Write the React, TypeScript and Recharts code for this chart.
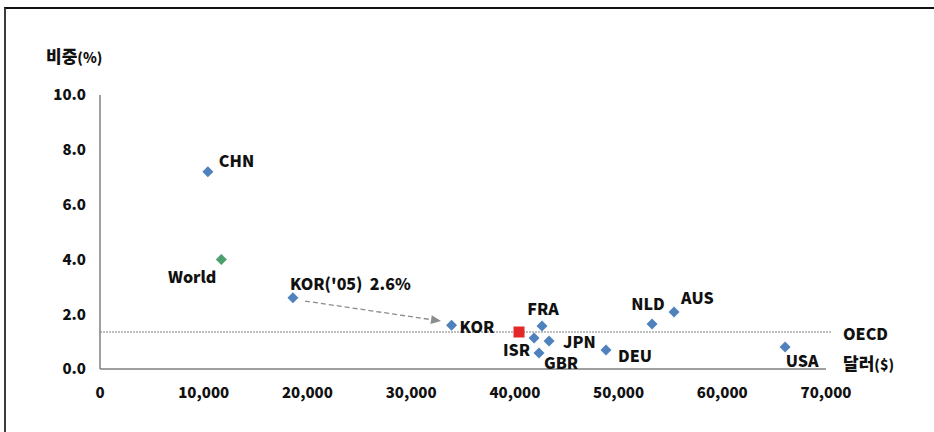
import React from 'react';
import { ScatterChart, Scatter, XAxis, YAxis, ReferenceLine } from 'recharts';

// ---- data ----
const countryNames = ['CHN', "KOR('05)  2.6%", 'KOR', 'ISR', 'GBR', 'FRA', 'JPN', 'DEU', 'NLD', 'AUS', 'USA'];
const countryGdp = [10400, 18600, 33900, 41850, 42330, 42620, 43300, 48790, 53230, 55350, 66060];
const countryShare = [7.2, 2.6, 1.6, 1.13, 0.58, 1.57, 1.02, 0.69, 1.64, 2.08, 0.8];

const worldNames = ['World'];
const worldGdp = [11700];
const worldShare = [4.0];

const oecdNames = ['OECD'];
const oecdGdp = [40400];
const oecdShare = [1.35];

const arrowFrom = { x: 19770, y: 2.48 };
const arrowTo = { x: 32880, y: 1.75 };

const xTicks = [0, 10000, 20000, 30000, 40000, 50000, 60000, 70000];
const yTicks = [0, 2, 4, 6, 8, 10];

const yAxisTitle = '비중';
const yAxisUnit = '(%)';
const xAxisTitle = '달러';
const xAxisUnit = '($)';
const oecdLineLabel = 'OECD';

// ---- layout / styles ----
const FONT = "'Noto Sans CJK KR', 'Noto Sans', sans-serif";
const BLUE = '#4F81BD';
const GREEN = '#4E9F6E';
const RED = '#E3282B';

const labelLayout: Record<string, { dx: number; dy: number; anchor: 'start' | 'middle' | 'end' }> = {
  CHN: { dx: 11, dy: -12, anchor: 'start' },
  World: { dx: -5, dy: 17, anchor: 'end' },
  "KOR('05)  2.6%": { dx: -3, dy: -15, anchor: 'start' },
  KOR: { dx: 8, dy: 1, anchor: 'start' },
  FRA: { dx: 1, dy: -18, anchor: 'middle' },
  ISR: { dx: -4, dy: 11, anchor: 'end' },
  GBR: { dx: 5, dy: 9, anchor: 'start' },
  JPN: { dx: 14, dy: 0, anchor: 'start' },
  DEU: { dx: 12, dy: 5, anchor: 'start' },
  NLD: { dx: -4, dy: -21, anchor: 'middle' },
  AUS: { dx: 7, dy: -15, anchor: 'start' },
  USA: { dx: 17, dy: 13, anchor: 'middle' },
};

const build = (names: string[], xs: number[], ys: number[]) =>
  names.map((name, i) => ({ name, x: xs[i], y: ys[i] }));

const countryData = build(countryNames, countryGdp, countryShare);
const worldData = build(worldNames, worldGdp, worldShare);
const oecdData = build(oecdNames, oecdGdp, oecdShare);

const renderLabel = (cx: number, cy: number, name: string) => {
  const l = labelLayout[name];
  if (!l) return null;
  return (
    <text
      x={cx + l.dx}
      y={cy + l.dy}
      textAnchor={l.anchor}
      dominantBaseline="central"
      fontFamily={FONT}
      fontWeight={900}
      fontSize={16}
      fill="#111"
      style={{ whiteSpace: 'pre' }}
    >
      {name}
    </text>
  );
};

const makeDiamond = (color: string) => (props: any) => {
  const { cx, cy, payload } = props;
  const r = 5.5;
  return (
    <g>
      <polygon points={`${cx},${cy - r} ${cx + r},${cy} ${cx},${cy + r} ${cx - r},${cy}`} fill={color} />
      {renderLabel(cx, cy, payload.name)}
    </g>
  );
};

const squareShape = (props: any) => {
  const { cx, cy } = props;
  const s = 11;
  return <rect x={cx - s / 2} y={cy - s / 2} width={s} height={s} fill={RED} />;
};

const arrowShape = (props: any) => {
  const { x1, y1, x2, y2 } = props;
  if ([x1, y1, x2, y2].some((v) => typeof v !== 'number' || isNaN(v))) return <g />;
  const ang = Math.atan2(y2 - y1, x2 - x1);
  const len = 10;
  const w = 4.5;
  const bx = x2 - len * Math.cos(ang);
  const by = y2 - len * Math.sin(ang);
  const px = -Math.sin(ang) * w;
  const py = Math.cos(ang) * w;
  return (
    <g>
      <line x1={x1} y1={y1} x2={bx} y2={by} stroke="#8C8C8C" strokeWidth={1.3} strokeDasharray="5 3" />
      <polygon points={`${x2},${y2} ${bx + px},${by + py} ${bx - px},${by - py}`} fill="#8C8C8C" />
    </g>
  );
};

const tickStyle = { fontFamily: FONT, fontWeight: 900, fontSize: 15, fill: '#111' };

export default function App() {
  return (
    <div style={{ position: 'absolute', left: 0, top: 0, width: 934, height: 432, background: '#fff', overflow: 'hidden' }}>
      <div
        style={{
          position: 'absolute',
          left: 4,
          top: 7,
          width: 950,
          height: 450,
          borderLeft: '2px solid #3c3c3c',
          borderTop: '2px solid #111',
        }}
      />
      <div style={{ position: 'absolute', left: 0, top: 0 }}>
        <ScatterChart width={934} height={432} margin={{ top: 95, right: 108, bottom: 23, left: 40 }}>
          <XAxis
            type="number"
            dataKey="x"
            domain={[0, 70000]}
            ticks={xTicks}
            interval={0}
            tickFormatter={(v: number) => v.toLocaleString('en-US')}
            tick={tickStyle}
            tickLine={false}
            tickSize={0}
            tickMargin={18}
            height={40}
            axisLine={{ stroke: '#7f7f7f', strokeWidth: 1.5 }}
          />
          <YAxis
            type="number"
            dataKey="y"
            domain={[0, 10]}
            ticks={yTicks}
            interval={0}
            tickFormatter={(v: number) => v.toFixed(1)}
            tick={tickStyle}
            tickLine={false}
            tickSize={0}
            tickMargin={14}
            width={60}
            axisLine={{ stroke: '#7f7f7f', strokeWidth: 1.5 }}
          />
          <ReferenceLine
            segment={[{ x: 0, y: oecdShare[0] }, { x: 70500, y: oecdShare[0] }]}
            ifOverflow="visible"
            stroke="#7f7f7f"
            strokeWidth={1}
            strokeDasharray="2 1"
          />
          <ReferenceLine
            segment={[arrowFrom, arrowTo]}
            ifOverflow="visible"
            shape={arrowShape}
          />
          <Scatter data={countryData} shape={makeDiamond(BLUE)} isAnimationActive={false} />
          <Scatter data={worldData} shape={makeDiamond(GREEN)} isAnimationActive={false} />
          <Scatter data={oecdData} shape={squareShape} isAnimationActive={false} />
        </ScatterChart>
      </div>
      <div style={{ position: 'absolute', left: 46, top: 45, fontFamily: FONT, fontWeight: 900, color: '#111', whiteSpace: 'nowrap', lineHeight: '22px' }}>
        <span style={{ fontSize: 17 }}>{yAxisTitle}</span>
        <span style={{ fontSize: 14 }}>{yAxisUnit}</span>
      </div>
      <div style={{ position: 'absolute', left: 843, top: 322, fontFamily: FONT, fontWeight: 900, fontSize: 16, color: '#111', lineHeight: '22px' }}>
        {oecdLineLabel}
      </div>
      <div style={{ position: 'absolute', left: 843, top: 352, fontFamily: FONT, fontWeight: 900, color: '#111', whiteSpace: 'nowrap', lineHeight: '22px' }}>
        <span style={{ fontSize: 17 }}>{xAxisTitle}</span>
        <span style={{ fontSize: 14 }}>{xAxisUnit}</span>
      </div>
    </div>
  );
}
